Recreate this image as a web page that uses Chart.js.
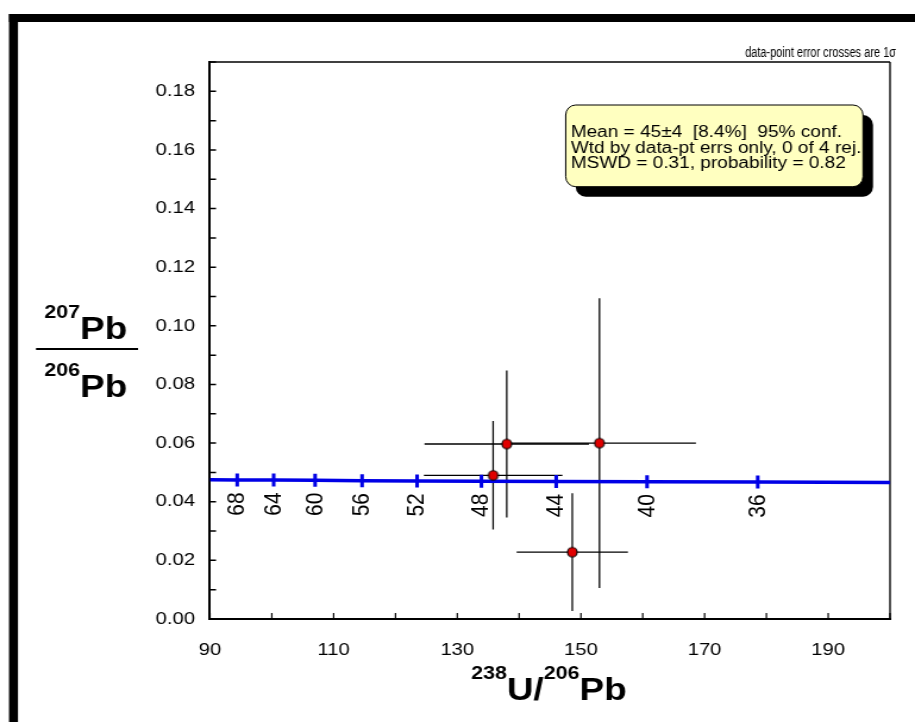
<!DOCTYPE html>
<html>
<head>
<meta charset="utf-8">
<title>Tera-Wasserburg</title>
<script src="https://cdn.jsdelivr.net/npm/chart.js@4.4.1/dist/chart.umd.min.js"></script>
<style>
  html, body { margin: 0; padding: 0; background: #fff; overflow: hidden; }
  canvas { display: block; }
</style>
</head>
<body>
<canvas id="tw" width="769" height="722" style="width:915px;height:722px"></canvas>
<script>
// spots: 238U/206Pb, 207Pb/206Pb and their 1-sigma errors
const spotX = [138.0, 153.0, 135.8, 148.6];
const spotY = [0.0597, 0.0600, 0.0490, 0.0228];
const spotXErr = [13.3, 15.6, 11.2, 9.0];
const spotYErr = [0.0251, 0.0494, 0.0185, 0.0201];

// concordia curve
const concX = [90, 94.4, 100.3, 107.0, 114.6, 123.5, 133.9, 146.0, 160.7, 178.6, 200];
const concY = [0.0475, 0.0474, 0.0474, 0.0473, 0.0472, 0.0471, 0.0470, 0.0469, 0.0468, 0.0467, 0.0466];

// age ticks on the concordia (Ma)
const ageLabels = [68, 64, 60, 56, 52, 48, 44, 40, 36];
const ageX = [94.4, 100.3, 107.0, 114.6, 123.5, 133.9, 146.0, 160.7, 178.6];
const ageY = [0.0474, 0.0474, 0.0473, 0.0472, 0.0471, 0.0470, 0.0469, 0.0468, 0.0467];

const boxLines = [
  "Mean = 45\u00b14  [8.4%]  95% conf.",
  "Wtd by data-pt errs only, 0 of 4 rej.",
  "MSWD = 0.31, probability = 0.82",
];
const cornerNote = "data-point error crosses are 1\u03c3";

// the source picture is stretched sideways; draw narrow and let css widen it
const S = 915 / 769;
const FONT = '"Liberation Sans", Arial, sans-serif';
const BLUE = "#0000e6";

function spotMarker() {
  const cv = document.createElement("canvas");
  cv.width = 12;
  cv.height = 13;
  const g = cv.getContext("2d");
  g.beginPath();
  g.ellipse(6, 6.5, 4.8 / S, 4.8, 0, 0, Math.PI * 2);
  g.fillStyle = "#e00000";
  g.fill();
  g.lineWidth = 1.1;
  g.strokeStyle = "#000";
  g.stroke();
  return cv;
}

const errorSets = [];
spotX.forEach((sx, i) => {
  const base = { showLine: true, borderColor: "#000", borderWidth: 1.4, pointRadius: 0, order: 3 };
  errorSets.push({ ...base, data: [{ x: sx - spotXErr[i], y: spotY[i] }, { x: sx + spotXErr[i], y: spotY[i] }] });
  errorSets.push({ ...base, borderWidth: 1.5 / S, data: [{ x: sx, y: spotY[i] - spotYErr[i] }, { x: sx, y: spotY[i] + spotYErr[i] }] });
});

const framePlugin = {
  id: "frame",
  beforeDraw(chart) {
    const c = chart.ctx;
    c.save();
    c.fillStyle = "#fff";
    c.fillRect(0, 0, chart.width, chart.height);
    c.fillStyle = "#000";
    c.fillRect(9 / S, 14, chart.width, 8);
    c.fillRect(9 / S, 14, 9 / S, chart.height);
    c.restore();
  },
};

// ticks point into the plot, and the box is closed on top and right
const ticksIn = {
  id: "ticksIn",
  beforeDatasetsDraw(chart) {
    const { ctx, chartArea: a, scales: { x, y } } = chart;
    ctx.save();
    ctx.strokeStyle = "#000";
    ctx.lineWidth = 1.4 / S;
    ctx.beginPath();
    x.ticks.forEach((t) => {
      const px = x.getPixelForValue(t.value);
      ctx.moveTo(px, a.bottom);
      ctx.lineTo(px, a.bottom - 6);
    });
    ctx.stroke();
    ctx.lineWidth = 1.5;
    ctx.beginPath();
    y.ticks.forEach((t) => {
      const py = y.getPixelForValue(t.value);
      ctx.moveTo(a.left, py);
      ctx.lineTo(a.left + 6 / S, py);
    });
    ctx.stroke();
    ctx.lineWidth = 1.4;
    ctx.beginPath();
    ctx.moveTo(a.left, a.top);
    ctx.lineTo(a.right, a.top);
    ctx.stroke();
    ctx.lineWidth = 1.6 / S;
    ctx.beginPath();
    ctx.moveTo(a.right, a.top);
    ctx.lineTo(a.right, a.bottom);
    ctx.stroke();
    ctx.restore();
  },
};

const ageText = {
  id: "ageText",
  afterDatasetsDraw(chart) {
    const { ctx, scales: { x, y } } = chart;
    ctx.save();
    ctx.fillStyle = "#000";
    ctx.font = "21px " + FONT;
    ctx.textAlign = "center";
    ctx.textBaseline = "middle";
    ageLabels.forEach((age, i) => {
      ctx.save();
      ctx.translate(x.getPixelForValue(ageX[i]), y.getPixelForValue(ageY[i]) + 24);
      ctx.rotate(-Math.PI / 2);
      ctx.fillText(String(age), 0, 0);
      ctx.restore();
    });
    ctx.restore();
  },
};

// isotope label: small bold mass number then the big element symbol
function isotope(ctx, parts, cx, base) {
  let w = 0;
  parts.forEach((p) => {
    ctx.font = "bold " + p.size + "px " + FONT;
    w += ctx.measureText(p.text).width;
  });
  let x = cx - w / 2;
  parts.forEach((p) => {
    ctx.font = "bold " + p.size + "px " + FONT;
    ctx.fillText(p.text, x, base - (p.sup ? 21 : 0));
    x += ctx.measureText(p.text).width;
  });
}

const labels = {
  id: "labels",
  afterDraw(chart) {
    const { ctx, chartArea: a } = chart;
    ctx.save();
    ctx.fillStyle = "#000";
    ctx.textAlign = "left";
    ctx.textBaseline = "alphabetic";

    // y title as a fraction
    const cy = 72;
    isotope(ctx, [{ text: "207", size: 18, sup: true }, { text: "Pb", size: 31 }], cy, 339);
    ctx.fillRect(36 / S, 348, 102 / S, 2);
    isotope(ctx, [{ text: "206", size: 18, sup: true }, { text: "Pb", size: 31 }], cy, 397);

    // x title
    isotope(ctx, [
      { text: "238", size: 18, sup: true },
      { text: "U/", size: 31 },
      { text: "206", size: 18, sup: true },
      { text: "Pb", size: 31 },
    ], (a.left + a.right) / 2 - 1, 700);

    // corner note is set in a narrow face in the source
    ctx.font = "14px " + FONT;
    const noteW = ctx.measureText(cornerNote).width;
    const noteTarget = (896 - 745) / S;
    ctx.save();
    ctx.translate(896 / S, 57);
    ctx.scale(noteTarget / noteW, 1);
    ctx.textAlign = "right";
    ctx.fillText(cornerNote, 0, 0);
    ctx.restore();

    // results box with its drop shadow
    const bx = 565.7 / S, by = 105, bw = 297.3 / S, bh = 81.7;
    const r = [{ x: 10 / S, y: 10 }];
    ctx.fillStyle = "#000";
    ctx.beginPath();
    ctx.roundRect(bx + 10 / S, by + 10, bw, bh, r);
    ctx.fill();
    ctx.fillStyle = "#ffffc0";
    ctx.beginPath();
    ctx.roundRect(bx, by, bw, bh, r);
    ctx.fill();
    ctx.lineWidth = 1;
    ctx.strokeStyle = "#000";
    ctx.stroke();
    ctx.fillStyle = "#000";
    ctx.textAlign = "left";
    ctx.font = "16px " + FONT;
    const bases = [137, 152.5, 168];
    boxLines.forEach((line, i) => ctx.fillText(line, 570.7 / S, bases[i]));
    ctx.restore();
  },
};

new Chart(document.getElementById("tw").getContext("2d"), {
  type: "scatter",
  data: {
    datasets: [
      {
        data: spotX.map((x, i) => ({ x, y: spotY[i] })),
        pointStyle: spotMarker(),
        pointRadius: 6,
        order: 0,
      },
      {
        data: ageX.map((x, i) => ({ x, y: ageY[i] })),
        pointStyle: "line",
        rotation: 90,
        pointRadius: 6.5,
        borderColor: BLUE,
        backgroundColor: BLUE,
        borderWidth: 3.6 / S,
        order: 1,
      },
      {
        data: concX.map((x, i) => ({ x, y: concY[i] })),
        showLine: true,
        borderColor: BLUE,
        borderWidth: 3.5,
        pointRadius: 0,
        order: 2,
      },
      ...errorSets,
    ],
  },
  options: {
    responsive: false,
    devicePixelRatio: 1,
    animation: false,
    events: [],
    layout: { padding: { top: 62, right: 769 - 893 / S, bottom: 0, left: 0 } },
    plugins: { legend: { display: false }, tooltip: { enabled: false } },
    scales: {
      x: {
        type: "linear",
        min: 90,
        max: 200,
        grid: { display: false, drawTicks: false },
        border: { display: true, color: "#000", width: 2 },
        afterFit: (s) => { s.height = 103; },
        ticks: {
          stepSize: 10,
          autoSkip: false,
          maxRotation: 0,
          padding: 21,
          color: "#000",
          font: { family: FONT, size: 17 },
          callback: (v) => ((v - 90) % 20 === 0 ? String(v) : ""),
        },
      },
      y: {
        type: "linear",
        min: 0,
        max: 0.19,
        grid: { display: false, drawTicks: false },
        border: { display: true, color: "#000", width: 2 },
        afterFit: (s) => { s.width = 210 / S; },
        ticks: {
          stepSize: 0.01,
          autoSkip: false,
          padding: 15 / S,
          color: "#000",
          font: { family: FONT, size: 17 },
          callback: (v) => (Math.round(v * 100) % 2 === 0 ? v.toFixed(2) : ""),
        },
      },
    },
  },
  plugins: [framePlugin, ticksIn, ageText, labels],
});
</script>
</body>
</html>
